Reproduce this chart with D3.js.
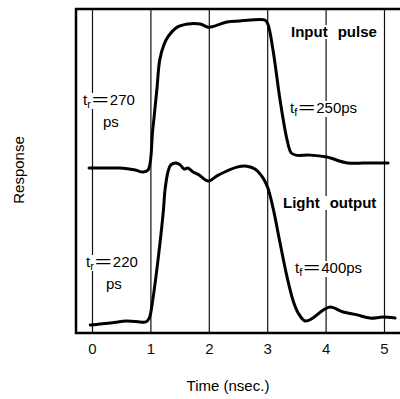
<!DOCTYPE html>
<html>
<head>
<meta charset="utf-8">
<script src="https://cdn.jsdelivr.net/npm/d3@7"></script>
<style>
  html, body { margin: 0; padding: 0; background: #fff; }
  svg { display: block; font-family: "Liberation Sans", Arial, sans-serif; }
</style>
</head>
<body>
<svg id="chart" width="400" height="399"></svg>
<script>
// Time axis ticks (ns)
const timeTicks = [0, 1, 2, 3, 4, 5];

// Input pulse trace: time (ns) and response (arbitrary units, 0-100 across the frame)
const inputTime = [-0.05, 0.00, 0.48, 0.74, 0.87, 0.96, 1.04, 1.11, 1.16, 1.23, 1.30, 1.46, 1.64, 1.85, 1.99, 2.11, 2.31, 2.53, 2.71, 2.96, 3.01, 3.10, 3.22, 3.34, 3.41, 3.49, 3.73, 4.02, 4.37, 4.76, 5.07];
const inputResp = [50.9, 50.9, 50.9, 50.3, 49.7, 50.3, 62.7, 75.0, 84.3, 88.9, 91.4, 94.4, 95.4, 95.4, 94.4, 94.8, 96.0, 96.3, 96.6, 96.6, 95.4, 87.3, 71.9, 59.6, 55.6, 54.9, 54.9, 54.3, 52.5, 52.5, 52.5];

// Light output trace
const lightTime = [-0.03, 0.00, 0.31, 0.60, 0.82, 0.92, 0.98, 1.04, 1.13, 1.22, 1.25, 1.30, 1.35, 1.44, 1.51, 1.58, 1.64, 1.73, 1.83, 1.99, 2.14, 2.31, 2.48, 2.65, 2.79, 2.93, 3.01, 3.10, 3.22, 3.34, 3.44, 3.53, 3.65, 3.78, 3.96, 4.08, 4.30, 4.54, 4.76, 4.98, 5.19];
const lightResp = [2.5, 2.5, 3.1, 3.7, 3.4, 3.4, 4.6, 10.2, 22.5, 37.3, 44.1, 49.7, 51.9, 52.5, 51.9, 50.6, 50.9, 49.7, 48.8, 46.9, 48.5, 50.0, 51.2, 51.5, 50.6, 47.8, 44.8, 38.6, 27.8, 17.3, 10.2, 6.2, 3.7, 4.6, 7.1, 8.0, 6.5, 5.6, 4.6, 4.9, 4.6];

const svg = d3.select("#chart");
const frame = { left: 76, right: 400, top: 9, bottom: 333 };

const x = d3.scaleLinear().domain([0, 5]).range([92, 384]);
const y = d3.scaleLinear().domain([0, 100]).range([frame.bottom, frame.top]);

// Vertical grid lines at each nanosecond, with labels below the frame
const xAxis = d3.axisBottom(x)
  .tickValues(timeTicks)
  .tickFormat(d3.format("d"))
  .tickSize(-(frame.bottom - frame.top))
  .tickPadding(10);

const gx = svg.append("g")
  .attr("transform", `translate(0,${frame.bottom})`)
  .call(xAxis);
gx.select(".domain").remove();
gx.selectAll(".tick line").attr("stroke", "#111").attr("stroke-width", 1.2);
gx.selectAll(".tick text")
  .attr("fill", "#111")
  .attr("font-size", 15)
  .attr("font-family", "\"Liberation Sans\", Arial, sans-serif");

// Curves
const line = d3.line()
  .x(d => x(d[0]))
  .y(d => y(d[1]))
  .curve(d3.curveCatmullRom.alpha(0.5));

[[inputTime, inputResp], [lightTime, lightResp]].forEach(([ts, vs]) => {
  svg.append("path")
    .datum(d3.zip(ts, vs))
    .attr("d", line)
    .attr("fill", "none")
    .attr("stroke", "#000")
    .attr("stroke-width", 3)
    .attr("stroke-linejoin", "round")
    .attr("stroke-linecap", "round");
});

// Frame: left, top and bottom edges
const fr = svg.append("g").attr("stroke", "#000").attr("stroke-width", 2.5);
fr.append("line").attr("x1", frame.left).attr("x2", frame.left).attr("y1", frame.top - 1).attr("y2", frame.bottom + 1);
fr.append("line").attr("x1", frame.left - 1).attr("x2", frame.right).attr("y1", frame.top).attr("y2", frame.top);
fr.append("line").attr("x1", frame.left - 1).attr("x2", frame.right).attr("y1", frame.bottom).attr("y2", frame.bottom);

// Text labels with a white backing so grid lines stop behind them
function label(px, py, pieces, opts = {}) {
  const g = svg.append("g");
  const t = g.append("text")
    .attr("x", px).attr("y", py)
    .attr("font-size", opts.size || 15)
    .attr("font-weight", opts.bold ? "bold" : "normal")
    .attr("fill", "#000");
  pieces.forEach(p => {
    const ts = t.append("tspan").text(p.text);
    if (p.dx) ts.attr("dx", p.dx);
    if (p.sub) ts.attr("font-size", 11).attr("dy", p.sub);
    if (p.rise) ts.attr("dy", p.rise);
    if (p.len) ts.attr("textLength", p.len).attr("lengthAdjust", "spacingAndGlyphs");
  });
  const b = t.node().getBBox();
  g.insert("rect", "text")
    .attr("x", b.x - 1).attr("y", b.y + 2)
    .attr("width", b.width + 2).attr("height", b.height - 3)
    .attr("fill", "#fff");
  return g;
}

// Pulse names
label(291, 37, [{ text: "Input" }, { text: "pulse", dx: 10 }], { bold: true });
label(283, 208, [{ text: "Light" }, { text: "output", dx: 10 }], { bold: true });

// Rise / fall times
function riseFall(px, py, sub, value, unitBelow) {
  label(px, py, [
    { text: "t" },
    { text: sub, sub: 3 },
    { text: "=", rise: -3, dx: 1, len: 17 },
    { text: value, dx: 1 }
  ]);
  if (unitBelow) label(px + 20, py + 22, [{ text: "ps" }]);
}
riseFall(83, 105, "r", "270", true);
riseFall(86, 267, "r", "220", true);
riseFall(290, 113, "f", "250ps", false);
riseFall(295, 273, "f", "400ps", false);

// Axis titles
svg.append("text")
  .attr("x", 228).attr("y", 391)
  .attr("text-anchor", "middle")
  .attr("font-size", 15)
  .text("Time (nsec.)");

svg.append("text")
  .attr("transform", "translate(24,170) rotate(-90)")
  .attr("text-anchor", "middle")
  .attr("font-size", 15)
  .text("Response");
</script>
</body>
</html>
